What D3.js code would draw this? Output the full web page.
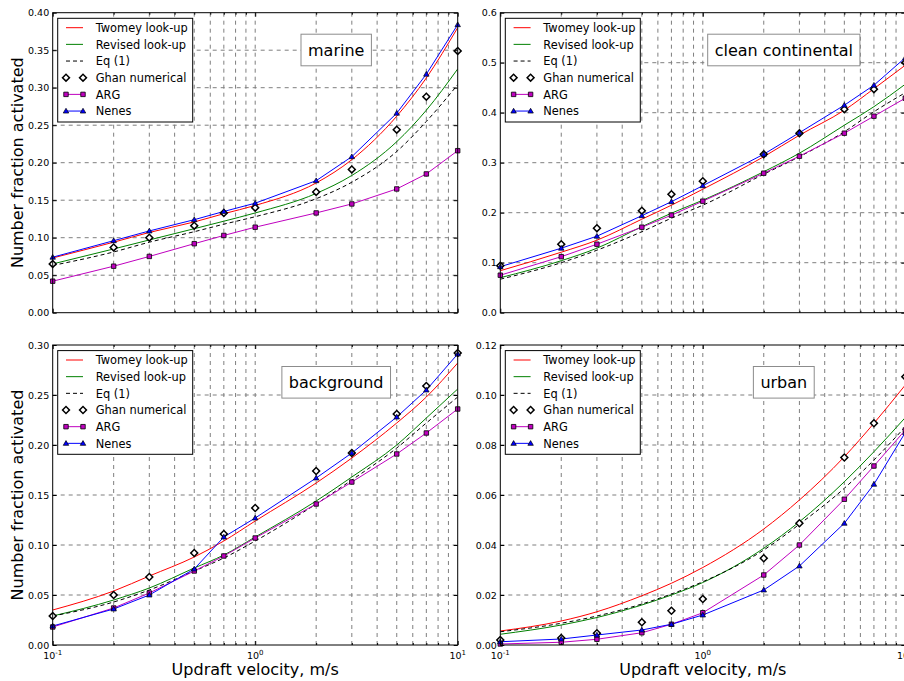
<!DOCTYPE html>
<html>
<head>
<meta charset="utf-8">
<script src="https://cdn.jsdelivr.net/npm/d3@7"></script>
<style>
  body { margin: 0; background: #fff; }
  svg { display: block; font-family: "DejaVu Sans", sans-serif; }
</style>
</head>
<body>
<svg id="chart" width="904" height="681"></svg>
<script>
// Updraft velocities (m/s) at which every scheme was evaluated.
const velocity = [0.1, 0.2, 0.3, 0.5, 0.7, 1, 2, 3, 5, 7, 10];
const seriesNames = ["Twomey look-up", "Revised look-up", "Eq (1)", "Ghan numerical", "ARG", "Nenes"];
const panelTitles = ["marine", "clean continental", "background", "urban"];
const xMajorTicks = [0.1, 1, 10];
const xMajorExponents = ["-1", "0", "1"];

// marine
const marineTwomey  = [0.073, 0.094, 0.107, 0.121, 0.132, 0.143, 0.173, 0.204, 0.262, 0.313, 0.380];
const marineRevised = [0.065, 0.085, 0.097, 0.112, 0.122, 0.133, 0.159, 0.183, 0.228, 0.270, 0.325];
const marineEq1     = [0.063, 0.081, 0.094, 0.108, 0.118, 0.128, 0.152, 0.174, 0.215, 0.255, 0.304];
const marineGhan    = [0.065, 0.087, 0.100, 0.116, 0.133, 0.140, 0.161, 0.191, 0.244, 0.288, 0.349];
const marineArg     = [0.042, 0.062, 0.075, 0.092, 0.103, 0.114, 0.133, 0.145, 0.165, 0.185, 0.216];
const marineNenes   = [0.074, 0.096, 0.109, 0.124, 0.135, 0.146, 0.176, 0.208, 0.266, 0.318, 0.384];
const marineYTicks  = [0, 0.05, 0.10, 0.15, 0.20, 0.25, 0.30, 0.35, 0.40];

// clean continental
const cleanTwomey  = [0.084, 0.121, 0.145, 0.187, 0.215, 0.247, 0.312, 0.355, 0.405, 0.448, 0.495];
const cleanRevised = [0.070, 0.104, 0.129, 0.172, 0.199, 0.225, 0.282, 0.319, 0.375, 0.412, 0.457];
const cleanEq1     = [0.067, 0.100, 0.125, 0.162, 0.189, 0.215, 0.277, 0.312, 0.362, 0.402, 0.440];
const cleanGhan    = [0.094, 0.137, 0.169, 0.204, 0.237, 0.263, 0.317, 0.359, 0.407, 0.447, 0.500];
const cleanArg     = [0.075, 0.112, 0.137, 0.171, 0.195, 0.223, 0.279, 0.313, 0.359, 0.393, 0.429];
const cleanNenes   = [0.092, 0.129, 0.153, 0.194, 0.222, 0.254, 0.317, 0.360, 0.415, 0.455, 0.510];
const cleanYTicks  = [0, 0.1, 0.2, 0.3, 0.4, 0.5, 0.6];

// background
const backgroundTwomey  = [0.035, 0.054, 0.069, 0.088, 0.104, 0.124, 0.162, 0.187, 0.222, 0.248, 0.282];
const backgroundRevised = [0.029, 0.045, 0.057, 0.077, 0.090, 0.108, 0.144, 0.168, 0.200, 0.227, 0.256];
const backgroundEq1     = [0.029, 0.043, 0.055, 0.074, 0.087, 0.104, 0.141, 0.165, 0.197, 0.222, 0.248];
const backgroundGhan    = [0.029, 0.050, 0.068, 0.092, 0.111, 0.137, 0.174, 0.192, 0.231, 0.259, 0.292];
const backgroundArg     = [0.018, 0.037, 0.052, 0.074, 0.089, 0.107, 0.141, 0.163, 0.191, 0.212, 0.236];
const backgroundNenes   = [0.019, 0.036, 0.050, 0.076, 0.108, 0.127, 0.167, 0.192, 0.228, 0.255, 0.291];
const backgroundYTicks  = [0, 0.05, 0.10, 0.15, 0.20, 0.25, 0.30];

// urban
const urbanTwomey  = [0.0056, 0.0096, 0.0133, 0.0197, 0.0247, 0.0310, 0.0464, 0.0580, 0.0753, 0.0887, 0.1040];
const urbanRevised = [0.0043, 0.0080, 0.0110, 0.0160, 0.0200, 0.0250, 0.0387, 0.0493, 0.0653, 0.0773, 0.0910];
const urbanEq1     = [0.0053, 0.0087, 0.0116, 0.0164, 0.0204, 0.0253, 0.0380, 0.0483, 0.0627, 0.0740, 0.0873];
const urbanGhan    = [0.0020, 0.0028, 0.0047, 0.0091, 0.0137, 0.0184, 0.0347, 0.0487, 0.0750, 0.0887, 0.1073];
const urbanArg     = [0.0004, 0.0011, 0.0023, 0.0049, 0.0083, 0.0129, 0.0280, 0.0400, 0.0583, 0.0716, 0.0860];
const urbanNenes   = [0.0013, 0.0024, 0.0040, 0.0060, 0.0083, 0.0120, 0.0220, 0.0316, 0.0487, 0.0643, 0.0850];
const urbanYTicks  = [0, 0.02, 0.04, 0.06, 0.08, 0.10, 0.12];

const PW = 405, PH = 300;
const panels = [
  {title: panelTitles[0], left: 52.7, top: 12.7, yTicks: marineYTicks, fmt: ".2f", xLabels: false, yLabel: true,
   data: [marineTwomey, marineRevised, marineEq1, marineGhan, marineArg, marineNenes]},
  {title: panelTitles[1], left: 500.3, top: 12.7, yTicks: cleanYTicks, fmt: ".1f", xLabels: false, yLabel: false,
   data: [cleanTwomey, cleanRevised, cleanEq1, cleanGhan, cleanArg, cleanNenes]},
  {title: panelTitles[2], left: 52.7, top: 345, yTicks: backgroundYTicks, fmt: ".2f", xLabels: true, yLabel: true,
   data: [backgroundTwomey, backgroundRevised, backgroundEq1, backgroundGhan, backgroundArg, backgroundNenes]},
  {title: panelTitles[3], left: 500.3, top: 345, yTicks: urbanYTicks, fmt: ".2f", xLabels: true, yLabel: false,
   data: [urbanTwomey, urbanRevised, urbanEq1, urbanGhan, urbanArg, urbanNenes]},
];

// Line / marker styles per series, in plotting order.
const styles = [
  {stroke: "#ff0000", curve: d3.curveMonotoneX},
  {stroke: "#008000", curve: d3.curveMonotoneX},
  {stroke: "#000000", curve: d3.curveMonotoneX, dash: "4,3"},
  {marker: "diamond"},
  {stroke: "#bf00bf", curve: d3.curveLinear, marker: "square", fill: "#bf00bf"},
  {stroke: "#0000ff", curve: d3.curveLinear, marker: "triangle", fill: "#0000ff"},
];

const svg = d3.select("#chart");
svg.append("rect").attr("width", 904).attr("height", 681).attr("fill", "#fff");

function drawMarker(sel, kind, fill) {
  if (kind === "diamond") {
    sel.append("path")
      .attr("d", d3.symbol(d3.symbolSquare, 24)())
      .attr("transform", "rotate(45)")
      .attr("fill", "#fff").attr("stroke", "#000").attr("stroke-width", 1.5);
  } else if (kind === "square") {
    sel.append("path")
      .attr("d", d3.symbol(d3.symbolSquare, 20)())
      .attr("fill", fill).attr("stroke", "#000").attr("stroke-width", 0.8);
  } else if (kind === "triangle") {
    sel.append("path")
      .attr("d", d3.symbol(d3.symbolTriangle, 13)())
      .attr("transform", "translate(0,0.4)")
      .attr("fill", fill).attr("stroke", "#000").attr("stroke-width", 0.7);
  }
}

panels.forEach((p, pi) => {
  const g = svg.append("g").attr("transform", `translate(${p.left},${p.top})`);
  const yMax = p.yTicks[p.yTicks.length - 1];
  const x = d3.scaleLog().domain([0.1, 10]).range([0, PW]);
  const y = d3.scaleLinear().domain([0, yMax]).range([PH, 0]);
  const allXTicks = x.ticks();
  const minorXTicks = allXTicks.filter((v) => !xMajorTicks.includes(v));

  // Grid (dashed, every decade subdivision and every y tick).
  const grid = g.append("g").attr("stroke", "#7f7f7f").attr("stroke-dasharray", "4,4").attr("stroke-width", 1);
  grid.selectAll("line.v").data(allXTicks.slice(1, -1)).join("line")
    .attr("x1", (d) => x(d)).attr("x2", (d) => x(d)).attr("y1", 0).attr("y2", PH);
  grid.selectAll("line.h").data(p.yTicks.slice(1, -1)).join("line")
    .attr("x1", 0).attr("x2", PW).attr("y1", (d) => y(d)).attr("y2", (d) => y(d));

  // Data.
  const clipId = `clip${pi}`;
  g.append("clipPath").attr("id", clipId).append("rect").attr("width", PW).attr("height", PH);
  const gLines = g.append("g").attr("clip-path", `url(#${clipId})`);
  const gMarks = g.append("g");
  p.data.forEach((vals, si) => {
    const st = styles[si];
    if (st.stroke) {
      const line = d3.line().x((d, i) => x(velocity[i])).y((d) => y(d)).curve(st.curve);
      gLines.append("path")
        .attr("d", line(vals))
        .attr("fill", "none")
        .attr("stroke", st.stroke)
        .attr("stroke-width", 1)
        .attr("stroke-dasharray", st.dash || null);
    }
    if (st.marker) {
      gMarks.append("g").selectAll("g").data(vals).join("g")
        .attr("transform", (d, i) => `translate(${x(velocity[i])},${y(d)})`)
        .each(function () { drawMarker(d3.select(this), st.marker, st.fill); });
    }
  });

  // Ticks on all four sides, pointing inward.
  const tickStyle = (a) => a.call((s) => s.select(".domain").remove())
    .selectAll("line").attr("stroke", "#000");
  g.append("g").attr("transform", `translate(0,${PH})`)
    .call(d3.axisBottom(x).tickValues(xMajorTicks).tickSize(-4).tickFormat(""))
    .call(tickStyle);
  g.append("g").attr("transform", `translate(0,${PH})`)
    .call(d3.axisBottom(x).tickValues(minorXTicks).tickSize(-2).tickFormat(""))
    .call(tickStyle);
  g.append("g")
    .call(d3.axisTop(x).tickValues(xMajorTicks).tickSize(-4).tickFormat(""))
    .call(tickStyle);
  g.append("g")
    .call(d3.axisTop(x).tickValues(minorXTicks).tickSize(-2).tickFormat(""))
    .call(tickStyle);
  const yAxis = g.append("g")
    .call(d3.axisLeft(y).tickValues(p.yTicks).tickSize(-4).tickPadding(3.5).tickFormat(d3.format(p.fmt)));
  yAxis.call(tickStyle);
  yAxis.selectAll("text").attr("font-family", "DejaVu Sans").attr("font-size", 9.5).attr("fill", "#000");
  g.append("g").attr("transform", `translate(${PW},0)`)
    .call(d3.axisRight(y).tickValues(p.yTicks).tickSize(-4).tickFormat(""))
    .call(tickStyle);

  // Frame.
  g.append("rect").attr("width", PW).attr("height", PH)
    .attr("fill", "none").attr("stroke", "#000").attr("stroke-width", 1);

  // Decade labels with superscript exponents.
  if (p.xLabels) {
    xMajorTicks.forEach((v, i) => {
      const t = g.append("text")
        .attr("x", x(v)).attr("y", PH + 13.5)
        .attr("text-anchor", "middle")
        .attr("font-size", 9.5);
      t.append("tspan").text("10");
      t.append("tspan").attr("dy", -4).attr("font-size", 7).text(xMajorExponents[i]);
    });
    g.append("text")
      .attr("x", PW / 2).attr("y", PH + 30)
      .attr("text-anchor", "middle")
      .attr("font-size", 16)
      .text("Updraft velocity, m/s");
  }
  if (p.yLabel) {
    g.append("text")
      .attr("transform", `translate(${22.5 - p.left},${PH / 2}) rotate(-90)`)
      .attr("text-anchor", "middle")
      .attr("font-size", 16)
      .text("Number fraction activated");
  }

  // Legend.
  const gLegend = g.append("g").attr("transform", "translate(5,5.6)");
  gLegend.append("rect").attr("width", 135).attr("height", 103.7)
    .attr("fill", "#fff").attr("stroke", "#000").attr("stroke-width", 1);
  seriesNames.forEach((name, si) => {
    const st = styles[si];
    const ry = 9.4 + si * 16.67;
    const row = gLegend.append("g").attr("transform", `translate(0,${ry})`);
    if (st.stroke) {
      row.append("line").attr("x1", 8.3).attr("x2", 25.3)
        .attr("stroke", st.stroke).attr("stroke-width", 1)
        .attr("stroke-dasharray", st.dash || null);
    }
    if (st.marker) {
      [8.3, 25.3].forEach((mx) => {
        const m = row.append("g").attr("transform", `translate(${mx},0)`);
        drawMarker(m, st.marker, st.fill);
      });
    }
    row.append("text").attr("x", 38).attr("y", 4.2)
      .attr("font-size", 11.4).text(name);
  });

  // Panel title in a box.
  const cx = 0.7 * PW, cy = 37.3;
  const gTitle = g.append("g");
  const title = gTitle.append("text")
    .attr("x", cx).attr("y", cy + 5.8)
    .attr("text-anchor", "middle")
    .attr("font-size", 16)
    .text(p.title);
  const tw = title.node().getComputedTextLength();
  gTitle.insert("rect", "text")
    .attr("x", cx - tw / 2 - 7).attr("y", cy - 15.8)
    .attr("width", tw + 14).attr("height", 31.6)
    .attr("fill", "#fff").attr("stroke", "#8c8c8c").attr("stroke-width", 1);
});
</script>
</body>
</html>
